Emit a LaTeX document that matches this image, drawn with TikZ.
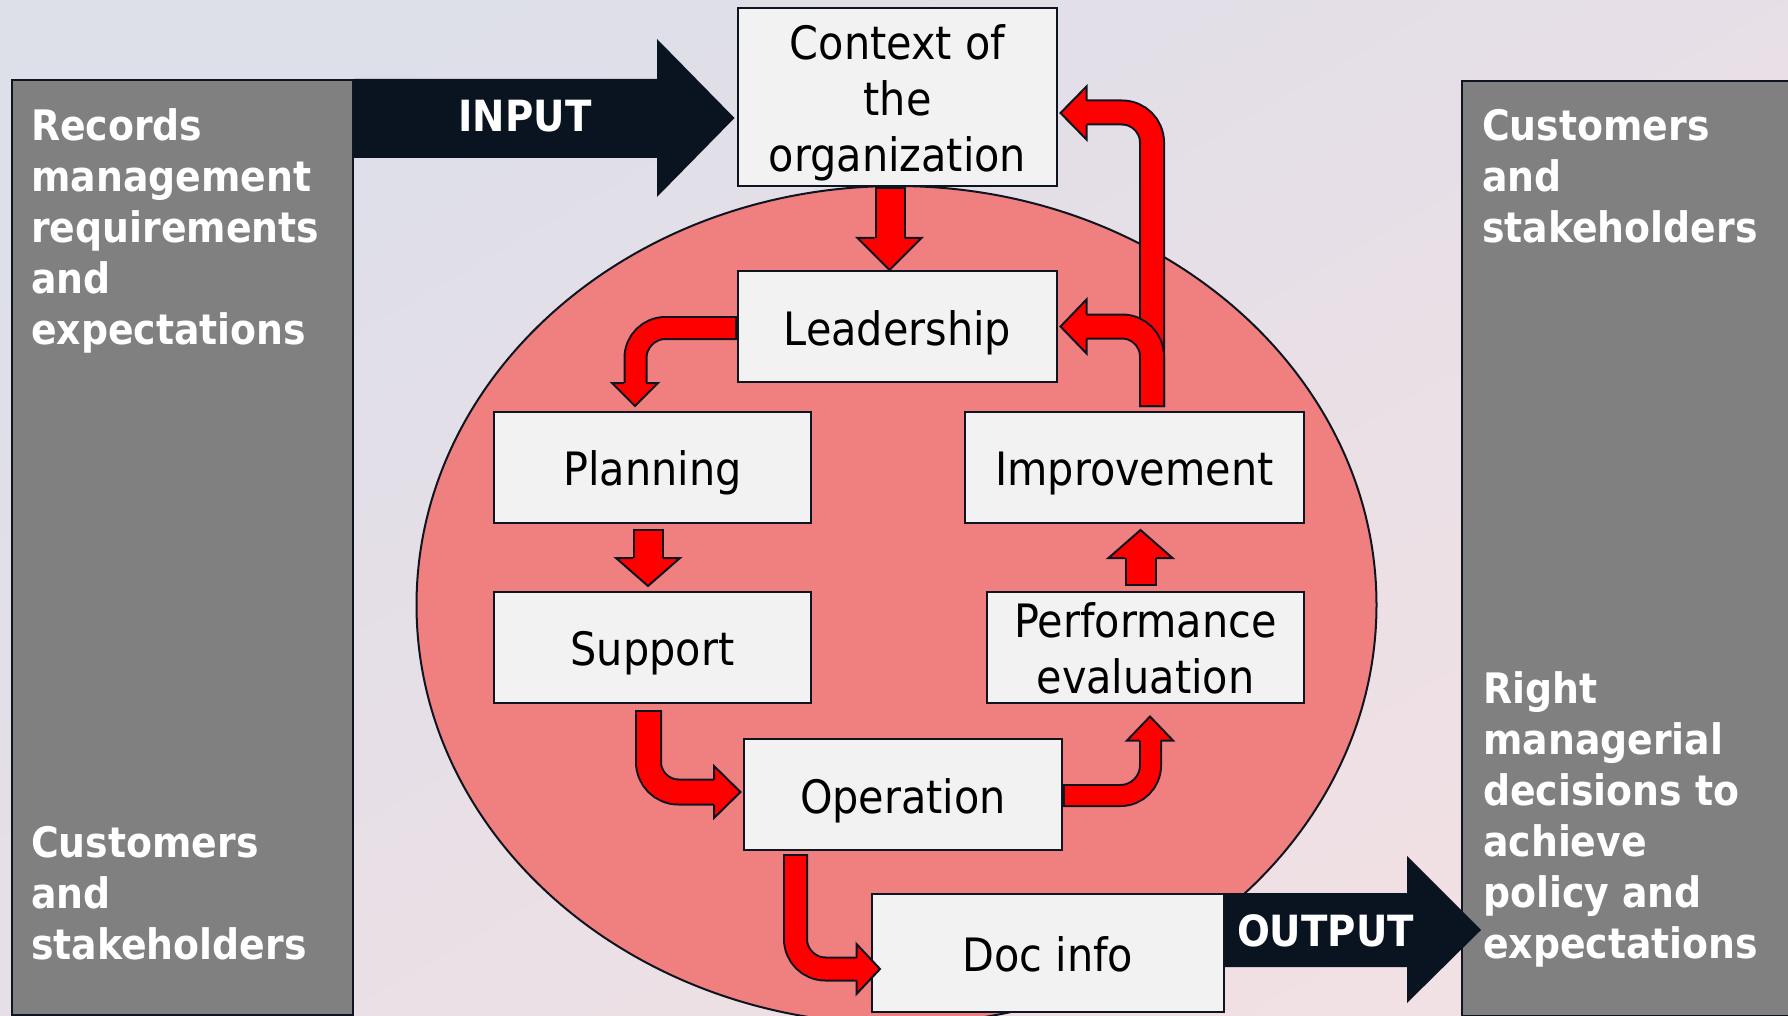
\documentclass[tikz,border=0pt]{standalone}
\usepackage{fontspec}
\setmainfont{DejaVu Sans Condensed}
\usetikzlibrary{calc, positioning}

\definecolor{edge}{RGB}{14,20,32}
\definecolor{navy}{RGB}{10,19,32}
\definecolor{panelgrey}{RGB}{128,128,128}
\definecolor{disc}{RGB}{240,128,128}
\definecolor{boxfill}{RGB}{242,242,242}
\definecolor{arrowred}{RGB}{255,0,0}
\definecolor{bgtop}{RGB}{221,223,233}
\definecolor{bgbottom}{RGB}{241,224,228}

% line box for labels on two or three lines: 37pt more above the baseline than below
\newcommand{\linebox}[1][11pt]{\rule[-#1]{0pt}{\dimexpr 37pt+2\dimexpr#1\relax\relax}}

\tikzstyle{stage} = [rectangle, draw=edge, line width=2pt, fill=boxfill,
  minimum width=317pt, minimum height=111pt, inner sep=0pt, align=center,
  text height=48pt, text depth=11pt, font=\fontsize{46}{56}\selectfont]
\tikzstyle{multiline} = [text height=, text depth=]
\tikzstyle{panel} = [rectangle, draw=edge, line width=2pt, fill=panelgrey,
  inner sep=0pt, anchor=north west]
\tikzstyle{paneltext} = [anchor=north west, inner sep=0pt, align=left,
  text=white, font=\fontsize{42}{51}\selectfont\bfseries]
\tikzstyle{flowlabel} = [inner sep=0pt, text=white,
  font=\fontsize{43}{51}\selectfont\bfseries]

\tikzset{
  flow/.style={draw=edge, line width=2pt, double=arrowred, double distance=#1,
    line cap=rect, rounded corners=30pt},
  % arrow head pointing along +x, tip at the origin: half width, length, shaft half
  pics/head/.style n args={3}{code={
    \fill[arrowred] (0,0) -- (-#2,#1) -- (-#2,-#1) -- cycle;
    \draw[edge, line width=2pt] (-#2,#3) -- (-#2,#1) -- (0,0) -- (-#2,-#1) -- (-#2,-#3);
  }}
}

\begin{document}
\begin{tikzpicture}[x=1pt, y=-1pt]
    \useasboundingbox (0,0) rectangle (1788,1016);
    \shade[top color=bgtop, bottom color=bgbottom, shading angle=30] (0,0) rectangle (1788,1016);

    % side panels
    \node[panel, minimum width=341pt, minimum height=935pt] (inpanel) at (11,79) {};
    \node[panel, minimum width=329pt, minimum height=935pt] (outpanel) at (1461,80) {};

    \node[paneltext] (needs) at ($(inpanel.north west)+(20,29)$)
      {Records\\management\\requirements\\and\\expectations};
    \node[paneltext] (inparties) at ($(inpanel.north west)+(20,747)$)
      {Customers\\and\\stakeholders};
    \node[paneltext] (outparties) at ($(outpanel.north west)+(21,29)$)
      {Customers\\and\\stakeholders};
    \node[paneltext] (decisions) at ($(outpanel.north west)+(22,591)$)
      {Right\\managerial\\decisions to\\achieve\\policy and\\expectations};

    % the management system
    \draw[edge, line width=2pt, fill=disc] (896.5,605) ellipse [x radius=480, y radius=419];

    \node[stage, multiline, minimum width=319pt, minimum height=178pt] (ctx) at (897.5,97)
      {\linebox Context of\\the\\organization\linebox};
    \node[stage, minimum width=319pt, below=83pt of ctx] (lead) {Leadership};
    \node[stage] (plan) at (652.5,467) {Planning};
    \node[stage, below=67pt of plan] (supp) {Support};
    \node[stage, minimum width=339pt] (impr) at (1134.5,467) {Improvement};
    \node[stage, multiline, below=67pt of impr.south east, anchor=north east] (perf)
      {\linebox[8.5pt]Performance\\evaluation\linebox[8.5pt]};
    \node[stage, minimum width=318pt] (oper) at (903,794.5) {Operation};
    \node[stage, minimum width=352pt, minimum height=118pt] (doc) at (1048,953) {Doc info};

    % input and output
    \coordinate (intip) at ($(ctx.west)+(-2.5,21)$);
    \fill[navy] (inpanel.north east) -- (657,79) -- (657,39) -- (intip)
      -- (657,197) -- (657,158) -- (inpanel.north east |- 0,158) -- cycle;
    \node[flowlabel] (inlabel) at (525,116) {INPUT};

    \coordinate (outtip) at ($(doc.east)+(256,-23)$);
    \fill[navy] (doc.north east) -- (1407,893) -- (1407,856) -- (outtip)
      -- (1407,1003) -- (1407,967) -- (doc.east |- 0,967) -- cycle;
    \node[flowlabel] (outlabel) at (1325.5,931) {OUTPUT};

    % the cycle
    \draw[flow=27pt] ($(ctx.south)+(-7.5,15.5)$) -- ($(lead.north)+(-7.5,-37)$);
    \pic[rotate=-90] at ($(lead.north)+(-8,0)$) {head={32}{32}{15}};

    \draw[flow=20pt] ($(lead.west)+(-12,1.5)$) -| ($(plan.north)+(-17,-32.5)$);
    \pic[rotate=-90] at ($(plan.north)+(-17.5,-4.5)$) {head={23}{23}{11}};

    \draw[flow=27pt] ($(plan.south)+(-4.5,21)$) -- ($(plan.south)+(-4.5,29.5)$);
    \pic[rotate=-90] at ($(supp.north)+(-4.5,-4.5)$) {head={32}{28}{15}};

    \draw[flow=23pt] ($(supp.south)+(-4,20)$) |- ($(oper.west)+(-34,-2.5)$);
    \pic at ($(oper.west)+(-2.5,-2.5)$) {head={26}{26.5}{12.5}};

    \draw[flow=21pt] ($(oper.south)+(-107.5,15.5)$) |- ($(doc.west)+(-19.5,16)$);
    \pic at ($(doc.west)+(9,16)$) {head={25}{23.5}{11.5}};

    \draw[flow=19pt] ($(oper.east)+(11.5,1)$) -| ($(perf.south)+(5,42)$);
    \pic[rotate=90] at ($(perf.south)+(4.5,13)$) {head={23}{24}{10.5}};

    \draw[flow=28pt] ($(perf.north)+(-4.5,-20.5)$) -- ($(perf.north)+(-4.5,-27.5)$);
    \pic[rotate=90] at ($(perf.north)+(-5,-60.5)$) {head={32}{28}{15.5}};

    \draw[flow=22pt] ($(impr.north)+(17.5,-16.5)$) |- ($(ctx.east)+(33.5,15.5)$);
    \pic[rotate=180] at ($(ctx.east)+(2.5,16)$) {head={26.5}{26}{12}};

    \draw[flow=22pt] ($(impr.north)+(17.5,-16.5)$) |- ($(lead.east)+(33.5,0)$);
    \pic[rotate=180] at ($(lead.east)+(2.5,0)$) {head={27}{26}{12}};
\end{tikzpicture}
\end{document}
